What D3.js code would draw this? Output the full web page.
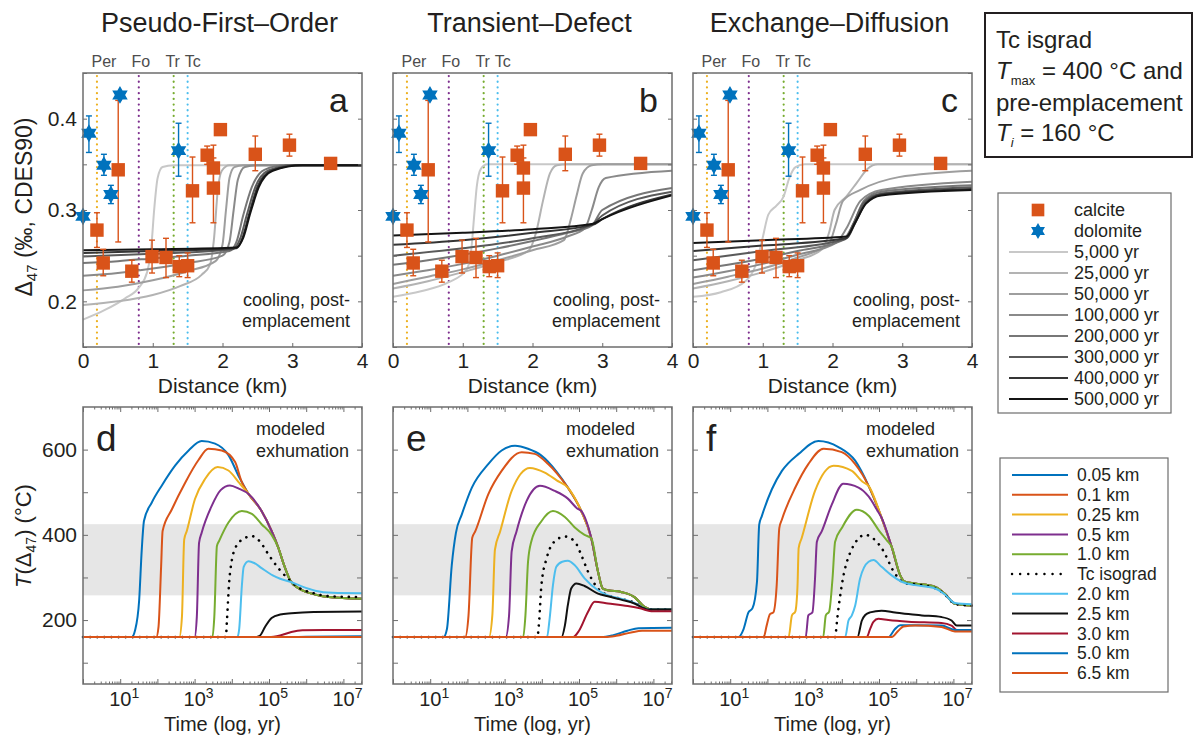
<!DOCTYPE html>
<html>
<head>
<meta charset="utf-8">
<script src="https://cdn.jsdelivr.net/npm/d3@7"></script>
<style>
  body { margin: 0; background: #fff; }
  text { font-family: "Liberation Sans", Arial, sans-serif; fill: #231f20; }
</style>
</head>
<body>
<svg id="chart" width="1195" height="742"></svg>
<script>
// ---------- data ----------
const modelNames = ["Pseudo-First–Order", "Transient–Defect", "Exchange–Diffusion"];
const topLetters = ["a", "b", "c"];
const bottomLetters = ["d", "e", "f"];

const minerals = ["Per", "Fo", "Tr", "Tc"];
const mineralKm = [0.2, 0.8, 1.3, 1.5];
const mineralColors = ["#EDB120", "#7E2F8E", "#77AC30", "#4DBEEE"];

// calcite samples: distance (km), Δ47, error low, error high
const calciteKm   = [0.20, 0.29, 0.505, 0.70, 0.99, 1.19, 1.38, 1.50, 1.57, 1.78, 1.87, 1.87, 1.97, 2.47, 2.96, 3.55];
const calciteD47  = [0.278, 0.242, 0.344, 0.233, 0.249, 0.248, 0.238, 0.239, 0.321, 0.360, 0.346, 0.324, 0.388, 0.361, 0.371, 0.351];
const calciteLo   = [0.259, 0.228, 0.265, 0.221, 0.231, 0.226, 0.227, 0.226, 0.286, 0.350, 0.329, 0.286, 0.388, 0.343, 0.359, 0.351];
const calciteHi   = [0.297, 0.257, 0.420, 0.245, 0.267, 0.269, 0.250, 0.253, 0.358, 0.370, 0.371, 0.357, 0.388, 0.381, 0.383, 0.351];

const dolomiteKm  = [0.0, 0.085, 0.30, 0.40, 0.53, 1.37];
const dolomiteD47 = [0.293, 0.384, 0.349, 0.317, 0.426, 0.365];
const dolomiteLo  = [0.293, 0.363, 0.338, 0.307, 0.426, 0.337];
const dolomiteHi  = [0.293, 0.403, 0.361, 0.327, 0.426, 0.395];

const ageLabels = ["5,000 yr", "25,000 yr", "50,000 yr", "100,000 yr", "200,000 yr", "300,000 yr", "400,000 yr", "500,000 yr"];
const ageColors = ["#c8c8c8", "#b3b3b3", "#9e9e9e", "#8a8a8a", "#777777", "#5a5a5a", "#353535", "#141414"];

// modelled Δ47 profiles [km, Δ47], one per age
const pfoProfiles = [
  [[0,0.180],[0.3,0.190],[0.6,0.203],[0.8,0.215],[0.92,0.232],[0.98,0.26],[1.02,0.30],[1.07,0.335],[1.14,0.347],[1.3,0.349],[4,0.349]],
  [[0,0.196],[0.5,0.200],[1.0,0.207],[1.4,0.217],[1.7,0.229],[1.82,0.24],[1.88,0.27],[1.93,0.32],[1.99,0.343],[2.1,0.349],[4,0.349]],
  [[0,0.212],[0.5,0.216],[1.0,0.223],[1.5,0.233],[1.9,0.244],[2.0,0.262],[2.05,0.30],[2.1,0.335],[2.17,0.347],[2.3,0.349],[4,0.349]],
  [[0,0.228],[0.5,0.231],[1.0,0.236],[1.5,0.242],[2.0,0.250],[2.1,0.265],[2.16,0.30],[2.22,0.333],[2.32,0.347],[2.5,0.349],[4,0.349]],
  [[0,0.242],[0.5,0.244],[1.0,0.247],[1.5,0.250],[2.1,0.255],[2.2,0.265],[2.3,0.295],[2.42,0.325],[2.6,0.344],[2.9,0.349],[4,0.349]],
  [[0,0.249],[1.0,0.252],[2.15,0.257],[2.25,0.268],[2.35,0.295],[2.47,0.325],[2.65,0.343],[3.0,0.349],[4,0.349]],
  [[0,0.253],[1.0,0.255],[2.2,0.258],[2.28,0.268],[2.38,0.295],[2.5,0.325],[2.7,0.343],[3.1,0.349],[4,0.349]],
  [[0,0.256],[1.0,0.257],[2.2,0.259],[2.3,0.270],[2.4,0.297],[2.52,0.325],[2.72,0.343],[3.15,0.349],[4,0.349]]
];
const tdProfiles = [
  [[0,0.205],[0.4,0.211],[0.8,0.221],[1.05,0.234],[1.12,0.255],[1.16,0.29],[1.2,0.325],[1.26,0.345],[1.35,0.35],[4,0.35]],
  [[0,0.214],[0.5,0.222],[1.0,0.232],[1.5,0.243],[1.95,0.256],[2.05,0.275],[2.15,0.31],[2.25,0.34],[2.35,0.349],[2.5,0.35],[4,0.35]],
  [[0,0.219],[0.5,0.227],[1.0,0.235],[1.5,0.245],[2.0,0.256],[2.45,0.267],[2.55,0.29],[2.63,0.315],[2.72,0.34],[2.85,0.349],[3.0,0.35],[4,0.35]],
  [[0,0.228],[0.5,0.234],[1.0,0.241],[1.5,0.250],[2.0,0.260],[2.5,0.271],[2.75,0.280],[2.85,0.30],[2.95,0.325],[3.05,0.335],[4,0.343]],
  [[0,0.240],[0.5,0.245],[1.0,0.251],[1.5,0.258],[2.0,0.266],[2.5,0.275],[2.85,0.283],[3.0,0.30],[4,0.324]],
  [[0,0.250],[1.0,0.258],[2.0,0.269],[2.85,0.284],[3.0,0.294],[4,0.320]],
  [[0,0.262],[1.0,0.267],[2.0,0.275],[2.87,0.284],[3.0,0.290],[4,0.317]],
  [[0,0.272],[1.0,0.275],[2.0,0.279],[2.87,0.285],[3.0,0.290],[4,0.316]]
];
const edProfiles = [
  [[0,0.205],[0.4,0.210],[0.75,0.222],[0.9,0.24],[1.0,0.27],[1.08,0.295],[1.2,0.305],[1.3,0.315],[1.38,0.335],[1.47,0.347],[1.6,0.35],[4,0.35]],
  [[0,0.214],[0.5,0.222],[1.0,0.232],[1.5,0.245],[1.85,0.257],[1.95,0.275],[2.03,0.30],[2.2,0.315],[2.35,0.33],[2.5,0.345],[2.65,0.35],[4,0.35]],
  [[0,0.219],[0.5,0.227],[1.0,0.236],[1.5,0.248],[1.95,0.263],[2.05,0.285],[2.15,0.31],[2.4,0.322],[2.95,0.336],[4,0.343]],
  [[0,0.226],[0.5,0.233],[1.0,0.241],[1.5,0.251],[2.05,0.264],[2.2,0.28],[2.4,0.31],[2.7,0.322],[4,0.331]],
  [[0,0.234],[0.5,0.240],[1.0,0.247],[1.5,0.255],[2.15,0.267],[2.3,0.285],[2.45,0.31],[2.7,0.32],[4,0.327]],
  [[0,0.245],[1.0,0.255],[2.18,0.268],[2.3,0.285],[2.45,0.308],[2.7,0.318],[4,0.325]],
  [[0,0.255],[1.0,0.261],[2.2,0.269],[2.32,0.285],[2.47,0.307],[2.7,0.317],[4,0.323]],
  [[0,0.264],[1.0,0.267],[2.2,0.271],[2.33,0.287],[2.48,0.307],[2.7,0.316],[4,0.322]]
];

const depthLabels = ["0.05 km", "0.1 km", "0.25 km", "0.5 km", "1.0 km", "Tc isograd", "2.0 km", "2.5 km", "3.0 km", "5.0 km", "6.5 km"];
const depthColors = ["#0072BD", "#D95319", "#EDB120", "#7E2F8E", "#77AC30", "#000000", "#4DBEEE", "#111111", "#A2142F", "#0072BD", "#D95319"];
const followsCooling = [true, true, true, true, true, false, false, false, false, false, false];

// T(Δ47) histories [log10 time (yr), °C]; shallow curves join the shared cooling path
const pfoCooling = [[4.45,496],[4.8,456],[5.07,409],[5.25,370],[5.4,330],[5.57,293],[5.79,275],[6.15,262],[6.6,254],[7.5,250]];
const pfoHistories = [
  [[0,160],[1.31,160],[1.4,176],[1.51,247],[1.58,366],[1.64,433],[1.85,476],[2.12,516],[2.48,563],[2.84,598],[3.19,620],[3.55,614],[3.91,587],[4.2,535]],
  [[0,160],[1.97,160],[2.03,184],[2.1,326],[2.14,409],[2.39,460],[2.75,523],[3.1,575],[3.37,602],[3.73,598],[4.09,571],[4.25,528]],
  [[0,160],[2.59,160],[2.66,208],[2.72,389],[2.79,409],[3.01,484],[3.28,531],[3.62,559],[3.91,551],[4.2,522]],
  [[0,160],[3.0,160],[3.06,208],[3.12,381],[3.19,405],[3.46,468],[3.7,505],[3.95,516],[4.2,508]],
  [[0,160],[3.48,160],[3.53,208],[3.6,374],[3.66,386],[3.91,429],[4.27,456],[4.54,449],[4.8,425],[5.07,400]],
  [[0,160],[3.84,160],[3.87,200],[3.93,290],[4.0,340],[4.1,370],[4.3,390],[4.54,397],[4.75,385],[5.0,352],[5.25,322],[5.5,298],[5.8,276],[6.2,263],[6.6,256],[7.5,254]],
  [[0,160],[4.15,160],[4.2,180],[4.27,280],[4.32,325],[4.45,338],[4.6,334],[4.8,322],[5.1,305],[5.3,297],[5.57,290],[5.88,279],[6.24,269],[6.7,264],[7.5,263]],
  [[0,160],[4.6,160],[4.75,163],[4.9,185],[5.07,205],[5.3,213],[5.6,216],[6.2,219],[7.5,220]],
  [[0,160],[5.0,160],[5.3,164],[5.6,172],[5.9,176],[6.5,177],[7.5,177]],
  [[0,160],[5.5,160],[6.0,161],[7.5,162]],
  [[0,160],[7.5,160]]
];
const tdCooling = [[4.7,511],[5.06,456],[5.33,392],[5.51,314],[5.64,274],[5.78,270],[6.13,266],[6.49,254],[6.76,231],[6.94,225],[7.5,225]];
const tdHistories = [
  [[0,160],[1.36,160],[1.45,179],[1.58,329],[1.69,404],[1.85,448],[2.12,511],[2.56,566],[2.92,598],[3.28,609],[3.63,602],[3.99,586],[4.4,548]],
  [[0,160],[1.94,160],[2.03,211],[2.13,393],[2.21,408],[2.56,495],[2.92,550],[3.46,594],[3.81,590],[4.17,566],[4.4,545]],
  [[0,160],[2.58,160],[2.67,211],[2.74,365],[2.88,408],[3.19,503],[3.68,557],[4.08,546],[4.4,528]],
  [[0,160],[3.03,160],[3.12,211],[3.19,361],[3.32,408],[3.59,479],[3.95,515],[4.35,503],[4.7,485],[4.95,462]],
  [[0,160],[3.5,160],[3.56,211],[3.63,337],[3.72,385],[3.99,432],[4.3,456],[4.62,442],[4.88,418],[5.15,400]],
  [[0,160],[3.88,160],[3.93,200],[3.99,282],[4.13,345],[4.35,385],[4.62,396],[4.88,385],[5.06,353],[5.24,314],[5.51,274],[5.78,258],[6.13,250],[6.49,241],[6.85,225],[7.5,225]],
  [[0,160],[4.14,160],[4.21,203],[4.3,282],[4.39,325],[4.55,337],[4.7,339],[4.88,329],[5.15,298],[5.51,270],[5.78,258],[6.13,250],[6.49,240],[6.85,225],[7.5,225]],
  [[0,160],[4.53,160],[4.62,187],[4.7,235],[4.79,274],[4.93,286],[5.15,280],[5.51,262],[5.78,256],[6.13,248],[6.49,239],[6.85,225],[7.5,225]],
  [[0,160],[4.84,160],[5.0,175],[5.24,219],[5.42,243],[5.78,239],[6.31,233],[6.67,227],[6.94,221],[7.5,221]],
  [[0,160],[5.6,160],[5.9,164],[6.3,175],[6.6,181],[7.5,182]],
  [[0,160],[5.7,160],[6.0,163],[6.4,171],[6.7,175],[7.5,175]]
];
const edCooling = [[4.72,515],[5.07,440],[5.34,372],[5.57,305],[5.7,290],[5.97,286],[6.51,278],[6.77,262],[7.04,238],[7.5,234]];
const edHistories = [
  [[0,160],[1.22,160],[1.36,179],[1.49,218],[1.6,228],[1.72,290],[1.78,424],[1.85,444],[2.12,507],[2.39,550],[2.84,590],[3.37,620],[3.91,606],[4.36,574]],
  [[0,160],[1.9,160],[1.98,187],[2.07,214],[2.16,218],[2.25,282],[2.32,416],[2.39,436],[2.75,511],[3.1,566],[3.51,602],[4.0,594],[4.36,566]],
  [[0,160],[2.57,160],[2.66,211],[2.75,220],[2.81,282],[2.84,369],[2.92,392],[3.28,503],[3.78,562],[4.27,550],[4.55,525]],
  [[0,160],[3.03,160],[3.1,211],[3.21,218],[3.28,297],[3.33,384],[3.46,408],[3.73,471],[4.04,520],[4.45,511],[4.72,490],[4.95,458]],
  [[0,160],[3.5,160],[3.57,211],[3.66,220],[3.75,297],[3.82,384],[4.0,416],[4.4,459],[4.72,445],[5.0,410],[5.2,388]],
  [[0,160],[3.83,160],[3.85,179],[4.0,282],[4.22,357],[4.63,400],[4.89,388],[5.07,369],[5.43,309],[5.7,286],[5.97,284],[6.51,275],[6.77,260],[7.04,238],[7.5,234]],
  [[0,160],[4.09,160],[4.18,199],[4.27,211],[4.36,234],[4.49,297],[4.72,337],[4.85,341],[5.07,325],[5.34,305],[5.61,290],[5.97,282],[6.51,274],[6.77,260],[7.04,240],[7.5,237]],
  [[0,160],[4.42,160],[4.54,199],[4.63,212],[4.76,218],[5.07,222],[5.43,218],[5.79,214],[6.15,211],[6.68,207],[6.95,199],[7.09,187],[7.5,187]],
  [[0,160],[4.67,160],[4.76,179],[4.85,196],[4.98,203],[5.25,200],[5.79,196],[6.68,193],[6.95,187],[7.09,177],[7.5,177]],
  [[0,160],[5.25,160],[5.43,179],[5.57,188],[5.97,188],[6.68,187],[7.04,177],[7.5,177]],
  [[0,160],[5.34,160],[5.52,175],[5.66,185],[5.97,187],[6.68,184],[7.04,173],[7.5,173]]
];

const tcWindow = [258, 425];      // grey band, °C
const d47Ticks = [0.15, 0.2, 0.25, 0.3, 0.35, 0.4, 0.45];
const d47Labels = [0.2, 0.3, 0.4];
const kmTicks = [0, 1, 2, 3, 4];
const tempTicks = [100, 200, 300, 400, 500, 600];
const tempLabels = [200, 400, 600];
const decades = [0, 1, 2, 3, 4, 5, 6, 7];
const labelledDecades = [1, 3, 5, 7];

// ---------- layout ----------
const svg = d3.select("#chart");
const ink = "#231f20";
const frameColor = "#6d6d6d";
const W = 279;
const lefts = [83, 393, 693];
const top1 = 73, bottom1 = 347;
const top2 = 407, bottom2 = 684;

const hexagram = {
  draw(ctx, size) {
    const R = Math.sqrt(size) / 2, r = R / Math.sqrt(3);
    for (let k = 0; k < 12; k++) {
      const a = -Math.PI / 2 + k * Math.PI / 6, rr = k % 2 ? r : R;
      if (k) ctx.lineTo(rr * Math.cos(a), rr * Math.sin(a));
      else ctx.moveTo(rr * Math.cos(a), rr * Math.sin(a));
    }
    ctx.closePath();
  }
};

const styleAxis = a => {
  a.select(".domain").remove();
  a.selectAll("line").attr("stroke", frameColor);
  a.selectAll("text").filter(function () { return !this.textContent; }).remove();
  a.selectAll("text").attr("font-size", 21).style("fill", ink);
};

function errorBars(g, x, y, xs, lo, hi, color) {
  xs.forEach((km, i) => {
    if (hi[i] - lo[i] < 0.001) return;
    const bar = g.append("g").attr("stroke", color).attr("stroke-width", 1.4);
    bar.append("line").attr("x1", x(km)).attr("x2", x(km)).attr("y1", y(lo[i])).attr("y2", y(hi[i]));
    [lo[i], hi[i]].forEach(v => bar.append("line")
      .attr("x1", x(km) - 3).attr("x2", x(km) + 3).attr("y1", y(v)).attr("y2", y(v)));
  });
}

function drawTop(i, profiles) {
  const L = lefts[i];
  const x = d3.scaleLinear().domain([0, 4]).range([L, L + W]);
  const y = d3.scaleLinear().domain([0.15, 0.45]).range([bottom1, top1]);
  const g = svg.append("g");

  g.append("text").attr("x", L + W / 2 - 3).attr("y", 32).attr("text-anchor", "middle")
    .attr("font-size", 27).text(modelNames[i]);

  // mineral isograds
  const labelShift = [7, 2, -1, 5];
  minerals.forEach((m, k) => {
    g.append("line")
      .attr("x1", x(mineralKm[k])).attr("x2", x(mineralKm[k]))
      .attr("y1", top1 + 3).attr("y2", bottom1)
      .attr("stroke", mineralColors[k]).attr("stroke-width", 2.2)
      .attr("stroke-linecap", "round").attr("stroke-dasharray", "0.1 5.6");
    g.append("text").attr("x", x(mineralKm[k]) + labelShift[k]).attr("y", 67)
      .attr("text-anchor", "middle").attr("font-size", 16).style("fill", "#4d4d4d").text(m);
  });

  const line = d3.line().x(d => x(d[0])).y(d => y(d[1])).curve(d3.curveMonotoneX);
  g.selectAll(".profile").data(profiles).join("path")
    .attr("class", "profile")
    .attr("d", line)
    .attr("fill", "none")
    .attr("stroke", (d, k) => ageColors[k])
    .attr("stroke-width", 2);

  errorBars(g, x, y, dolomiteKm, dolomiteLo, dolomiteHi, "#0072BD");
  errorBars(g, x, y, calciteKm, calciteLo, calciteHi, "#D95319");

  g.selectAll(".calcite").data(calciteKm).join("path")
    .attr("class", "calcite")
    .attr("transform", (d, k) => `translate(${x(d)},${y(calciteD47[k])})`)
    .attr("d", d3.symbol(d3.symbolSquare, 180))
    .attr("fill", "#D95319");
  g.selectAll(".dolomite").data(dolomiteKm).join("path")
    .attr("class", "dolomite")
    .attr("transform", (d, k) => `translate(${x(d)},${y(dolomiteD47[k])})`)
    .attr("d", d3.symbol(hexagram, 320))
    .attr("fill", "#0072BD");

  g.append("text").attr("x", L + W - 14).attr("y", 112).attr("text-anchor", "end")
    .attr("font-size", 34).text(topLetters[i]);
  g.append("text").attr("x", L + W - 12).attr("y", 306).attr("text-anchor", "end")
    .attr("font-size", 18).text("cooling, post-");
  g.append("text").attr("x", L + W - 12).attr("y", 327).attr("text-anchor", "end")
    .attr("font-size", 18).text("emplacement");

  g.append("g").attr("transform", `translate(0,${bottom1})`)
    .call(d3.axisBottom(x).tickValues(kmTicks).tickSize(-4).tickPadding(6).tickFormat(d3.format("d")))
    .call(styleAxis);
  g.append("g").attr("transform", `translate(${L},0)`)
    .call(d3.axisLeft(y).tickValues(d47Ticks).tickSize(-4).tickPadding(6)
      .tickFormat(d => (i === 0 && d47Labels.includes(d)) ? d3.format(".1f")(d) : ""))
    .call(styleAxis);
  g.append("g").attr("transform", `translate(${L + W},0)`)
    .call(d3.axisRight(y).tickValues(d47Ticks).tickSize(-4).tickFormat(""))
    .call(styleAxis);

  g.append("text").attr("x", L + W / 2).attr("y", 393).attr("text-anchor", "middle")
    .attr("font-size", 21).text("Distance (km)");

  g.append("rect").attr("x", L).attr("y", top1).attr("width", W).attr("height", bottom1 - top1)
    .attr("fill", "none").attr("stroke", frameColor).attr("stroke-width", 1.5);
}

function drawBottom(i, histories, cooling) {
  const L = lefts[i];
  const x = d3.scaleLog().domain([1, Math.pow(10, 7.5)]).range([L, L + W]);
  const y = d3.scaleLinear().domain([50, 700]).range([bottom2, top2]);
  const g = svg.append("g");

  g.append("rect").attr("x", L).attr("width", W)
    .attr("y", y(tcWindow[1])).attr("height", y(tcWindow[0]) - y(tcWindow[1]))
    .attr("fill", "#e6e6e6");

  const line = d3.line().x(d => x(Math.pow(10, d[0]))).y(d => y(d[1])).curve(d3.curveMonotoneX);
  const series = histories.map((h, k) => followsCooling[k]
    ? h.concat(cooling.filter(p => p[0] > h[h.length - 1][0])) : h);
  g.selectAll(".history").data(series).join("path")
    .attr("class", "history")
    .attr("d", line)
    .attr("fill", "none")
    .attr("stroke", (d, k) => depthColors[k])
    .attr("stroke-width", (d, k) => k === 5 ? 2.6 : 2)
    .attr("stroke-linecap", (d, k) => k === 5 ? "round" : "butt")
    .attr("stroke-dasharray", (d, k) => k === 5 ? "0.1 7" : null);

  // log axes, majors + minors on both edges
  const majors = decades.map(e => Math.pow(10, e));
  const minors = [];
  decades.forEach(e => d3.range(2, 10).forEach(m => {
    if (Math.log10(m) + e <= 7.5) minors.push(m * Math.pow(10, e));
  }));
  [[d3.axisBottom, bottom2], [d3.axisTop, top2]].forEach(([axis, yy]) => {
    g.append("g").attr("transform", `translate(0,${yy})`)
      .call(axis(x).tickValues(majors).tickSize(-5).tickFormat("")).call(styleAxis);
    g.append("g").attr("transform", `translate(0,${yy})`)
      .call(axis(x).tickValues(minors).tickSize(-2.5).tickFormat("")).call(styleAxis);
  });
  labelledDecades.forEach(e => {
    const t = g.append("text").attr("x", x(Math.pow(10, e)) + 4).attr("y", bottom2 + 22)
      .attr("text-anchor", "middle").attr("font-size", 20);
    t.append("tspan").text("10");
    t.append("tspan").attr("dy", -8).attr("font-size", 14).text(e);
  });

  g.append("g").attr("transform", `translate(${L},0)`)
    .call(d3.axisLeft(y).tickValues(tempTicks).tickSize(-5).tickPadding(6)
      .tickFormat(d => (i === 0 && tempLabels.includes(d)) ? d : ""))
    .call(styleAxis);
  g.append("g").attr("transform", `translate(${L + W},0)`)
    .call(d3.axisRight(y).tickValues(tempTicks).tickSize(-5).tickFormat(""))
    .call(styleAxis);

  g.append("text").attr("x", L + 13).attr("y", 451).attr("font-size", 37).text(bottomLetters[i]);
  g.append("text").attr("x", L + W - 106).attr("y", 435).attr("font-size", 18).text("modeled");
  g.append("text").attr("x", L + W - 106).attr("y", 457).attr("font-size", 18).text("exhumation");

  g.append("text").attr("x", L + W / 2).attr("y", 731).attr("text-anchor", "middle")
    .attr("font-size", 20).text("Time (log, yr)");

  g.append("rect").attr("x", L).attr("y", top2).attr("width", W).attr("height", bottom2 - top2)
    .attr("fill", "none").attr("stroke", frameColor).attr("stroke-width", 1.5);
}

[pfoProfiles, tdProfiles, edProfiles].forEach((p, i) => drawTop(i, p));
[[pfoHistories, pfoCooling], [tdHistories, tdCooling], [edHistories, edCooling]]
  .forEach(([h, c], i) => drawBottom(i, h, c));

// y-axis titles
const yt1 = svg.append("text").attr("transform", "translate(32,207) rotate(-90)")
  .attr("text-anchor", "middle").attr("font-size", 23);
yt1.append("tspan").text("Δ");
yt1.append("tspan").attr("dy", 5).attr("font-size", 15).text("47");
yt1.append("tspan").attr("dy", -5).text(" (‰, CDES90)");

const yt2 = svg.append("text").attr("transform", "translate(31,536) rotate(-90)")
  .attr("text-anchor", "middle").attr("font-size", 22);
yt2.append("tspan").attr("font-style", "italic").text("T");
yt2.append("tspan").text("(Δ");
yt2.append("tspan").attr("dy", 5).attr("font-size", 14).text("47");
yt2.append("tspan").attr("dy", -5).text(") (°C)");

// ---------- boxes on the right ----------
svg.append("rect").attr("x", 985).attr("y", 13).attr("width", 207).attr("height", 144)
  .attr("fill", "#fff").attr("stroke", ink).attr("stroke-width", 2);
const note = svg.append("g");
note.append("text").attr("x", 996).attr("y", 48).attr("font-size", 24).text("Tc isgrad");
const n2 = note.append("text").attr("x", 996).attr("y", 79).attr("font-size", 24);
n2.append("tspan").attr("font-style", "italic").text("T");
n2.append("tspan").attr("dy", 6).attr("font-size", 13).text("max");
n2.append("tspan").attr("dy", -6).text(" = 400 °C and");
note.append("text").attr("x", 996).attr("y", 111).attr("font-size", 24).text("pre-emplacement");
const n4 = note.append("text").attr("x", 996).attr("y", 141).attr("font-size", 24);
n4.append("tspan").attr("font-style", "italic").text("T");
n4.append("tspan").attr("dy", 6).attr("font-size", 13).attr("font-style", "italic").text("i");
n4.append("tspan").attr("dy", -6).text(" = 160 °C");

// legend: samples and ages
const leg1 = svg.append("g");
leg1.append("rect").attr("x", 998).attr("y", 193).attr("width", 173).attr("height", 220)
  .attr("fill", "#fff").attr("stroke", frameColor).attr("stroke-width", 1.2);
const rows1 = ["calcite", "dolomite"].concat(ageLabels);
rows1.forEach((label, k) => {
  const yy = 210 + 21 * k;
  if (k === 0) leg1.append("path").attr("transform", `translate(1038,${yy})`)
    .attr("d", d3.symbol(d3.symbolSquare, 160)).attr("fill", "#D95319");
  else if (k === 1) leg1.append("path").attr("transform", `translate(1038,${yy})`)
    .attr("d", d3.symbol(hexagram, 260)).attr("fill", "#0072BD");
  else leg1.append("line").attr("x1", 1009).attr("x2", 1068).attr("y1", yy).attr("y2", yy)
    .attr("stroke", ageColors[k - 2]).attr("stroke-width", 2);
  leg1.append("text").attr("x", 1074).attr("y", yy).attr("dy", "0.35em")
    .attr("font-size", 18).text(label);
});

// legend: depths
const leg2 = svg.append("g");
leg2.append("rect").attr("x", 1000).attr("y", 458).attr("width", 168).attr("height", 234)
  .attr("fill", "#fff").attr("stroke", frameColor).attr("stroke-width", 1.2);
depthLabels.forEach((label, k) => {
  const yy = 475 + 19.8 * k;
  leg2.append("line").attr("x1", 1012).attr("x2", 1068).attr("y1", yy).attr("y2", yy)
    .attr("stroke", depthColors[k]).attr("stroke-width", k === 5 ? 2.4 : 2)
    .attr("stroke-linecap", k === 5 ? "round" : "butt")
    .attr("stroke-dasharray", k === 5 ? "0.1 8" : null);
  leg2.append("text").attr("x", 1077).attr("y", yy).attr("dy", "0.35em")
    .attr("font-size", 17.5).text(label);
});
</script>
</body>
</html>
